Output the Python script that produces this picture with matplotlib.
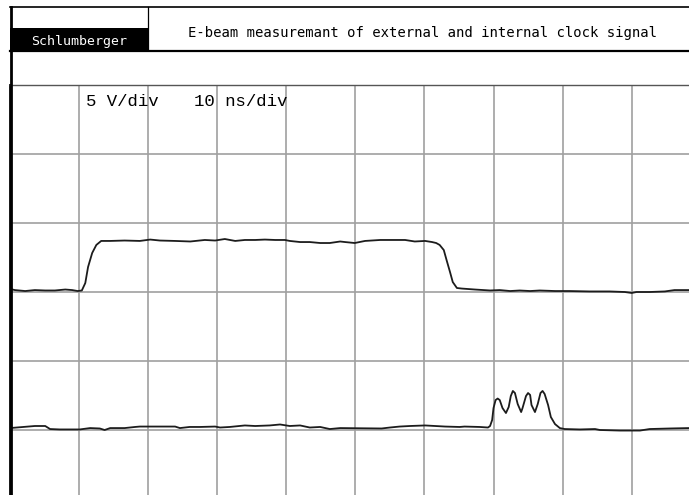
import matplotlib.pyplot as plt
from matplotlib.patches import Rectangle
from matplotlib.lines import Line2D

# screen size in pixels (figure at 100 dpi)
W, H = 689, 495

title = 'E-beam measuremant of external and internal clock signal'
brand = 'Schlumberger'
scale_v = '5 V/div'
scale_t = '10 ns/div'

# division lines: 10 ns/div, 5 V/div
time_grid = [10, 20, 30, 40, 50, 60, 70, 80, 90]
volt_grid = [5, 10, 15, 20, 25]

# external clock trace (ns, V)
ext_t = [0.0, 0.7, 2.2, 3.6, 5.1, 6.5, 8.0, 9.0, 9.8, 10.4,
         10.9, 11.3, 11.9, 12.5, 13.2, 14.5, 16.6, 18.8, 20.3, 21.7,
         23.9, 26.1, 28.2, 29.7, 31.1, 32.6, 34.0, 35.5, 36.9, 38.4,
         39.8, 40.5, 42.0, 43.4, 44.9, 46.3, 47.8, 48.5, 49.9, 51.4,
         53.6, 55.7, 57.2, 58.6, 60.1, 61.1, 61.7, 62.2, 62.8, 63.2,
         63.7, 64.1, 64.7, 65.4, 67.3, 69.5, 70.9, 72.4, 73.8, 75.3,
         76.7, 78.9, 81.0, 83.9, 86.8, 89.0, 90.0, 90.7, 92.6, 94.8,
         96.2, 98.3]
ext_v = [15.22, 15.14, 15.07, 15.14, 15.11, 15.11, 15.18, 15.14, 15.07, 15.11,
         15.65, 16.81, 17.83, 18.41, 18.70, 18.70, 18.73, 18.70, 18.80, 18.73,
         18.70, 18.66, 18.77, 18.73, 18.84, 18.70, 18.77, 18.77, 18.80, 18.77,
         18.77, 18.70, 18.62, 18.62, 18.55, 18.55, 18.66, 18.62, 18.55, 18.70,
         18.77, 18.77, 18.77, 18.66, 18.70, 18.62, 18.55, 18.41, 18.04, 17.32,
         16.45, 15.72, 15.29, 15.25, 15.18, 15.11, 15.14, 15.07, 15.11, 15.07,
         15.11, 15.07, 15.07, 15.04, 15.04, 15.00, 14.93, 15.00, 15.00, 15.04,
         15.14, 15.14]

# internal clock trace (ns, V)
int_t = [0.0, 3.6, 5.1, 5.8, 7.2, 10.1, 11.6, 13.0, 13.7, 14.5,
         16.6, 18.1, 18.8, 20.3, 23.9, 24.6, 26.0, 27.5, 29.7, 30.4,
         31.8, 34.0, 35.5, 37.6, 39.1, 40.5, 42.0, 43.4, 44.9, 46.3,
         47.8, 53.8, 55.0, 56.4, 57.9, 60.1, 63.0, 65.1, 65.8, 68.0,
         69.2, 69.5, 69.8, 70.0, 70.3, 70.6, 70.9, 71.3, 71.8, 72.2,
         72.5, 72.8, 73.1, 73.5, 74.0, 74.2, 74.7, 75.0, 75.3, 75.5,
         76.0, 76.4, 76.8, 77.1, 77.4, 77.9, 78.3, 78.9, 79.6, 80.3,
         82.5, 84.7, 85.4, 88.3, 91.2, 92.6, 95.5, 98.3]
int_v = [5.14, 5.29, 5.29, 5.07, 5.04, 5.04, 5.14, 5.11, 5.00, 5.14,
         5.14, 5.22, 5.25, 5.25, 5.25, 5.14, 5.22, 5.22, 5.25, 5.18,
         5.22, 5.33, 5.29, 5.33, 5.40, 5.29, 5.33, 5.18, 5.22, 5.07,
         5.14, 5.11, 5.18, 5.25, 5.29, 5.33, 5.25, 5.22, 5.25, 5.22,
         5.18, 5.29, 5.72, 6.59, 7.17, 7.28, 7.17, 6.59, 6.23, 6.67,
         7.46, 7.83, 7.68, 6.88, 6.30, 6.59, 7.46, 7.68, 7.54, 6.81,
         6.30, 6.88, 7.68, 7.83, 7.61, 6.81, 5.94, 5.43, 5.14, 5.07,
         5.04, 5.07, 5.00, 4.96, 4.96, 5.07, 5.11, 5.14]


def fx(x):
    return x / W


def fy(y):
    return 1 - y / H


fig = plt.figure(figsize=(W / 100, H / 100), dpi=100)

# scope screen
ax = fig.add_axes([fx(10), 0, 1 - fx(10), fy(85)])
ax.set_xlim(0, 98.3)
ax.set_ylim(0.29, 30)
for t in time_grid:
    ax.axvline(t, color='#a0a0a0', lw=1.2, zorder=1)
for v in volt_grid:
    ax.axhline(v, color='#a0a0a0', lw=1.2, zorder=1)
ax.plot(ext_t, ext_v, color='#1c1c1c', lw=1.3, zorder=3)
ax.plot(int_t, int_v, color='#1c1c1c', lw=1.3, zorder=3)
ax.set_xticks([])
ax.set_yticks([])
for s in ['right', 'bottom']:
    ax.spines[s].set_visible(False)
ax.spines['top'].set_color('#555555')
ax.spines['top'].set_linewidth(1.0)
ax.spines['left'].set_linewidth(2.0)

ax.text(fx(86 - 10) / (1 - fx(10)), 1 - (101 - 85) / (H - 85), scale_v,
        transform=ax.transAxes, family='Liberation Mono', fontsize=12.5,
        va='center', ha='left', zorder=4)
ax.text(fx(194 - 10) / (1 - fx(10)), 1 - (101 - 85) / (H - 85), scale_t,
        transform=ax.transAxes, family='Liberation Mono', fontsize=12.5,
        va='center', ha='left', zorder=4)

# header block
fig.add_artist(Rectangle((fx(10), fy(50)), fx(148) - fx(10), fy(28) - fy(50),
                         transform=fig.transFigure, facecolor='black',
                         edgecolor='none'))
fig.add_artist(Line2D([fx(10), 1], [fy(7), fy(7)], transform=fig.transFigure,
                      color='black', lw=1.2))
fig.add_artist(Line2D([fx(10), 1], [fy(50.5), fy(50.5)], transform=fig.transFigure,
                      color='black', lw=1.6))
fig.add_artist(Line2D([fx(148), fx(148)], [fy(7), fy(50)], transform=fig.transFigure,
                      color='black', lw=0.9))
fig.add_artist(Line2D([fx(11), fx(11)], [fy(7), 0], transform=fig.transFigure,
                      color='black', lw=2.0))

fig.text(fx(79), fy(41), brand, color='white', family='DejaVu Sans Mono',
         fontsize=9.5, ha='center', va='center')
fig.text(fx(422), fy(33), title, color='black', family='DejaVu Sans Mono',
         fontsize=10, ha='center', va='center')

fig.savefig('out.png', dpi=100)
